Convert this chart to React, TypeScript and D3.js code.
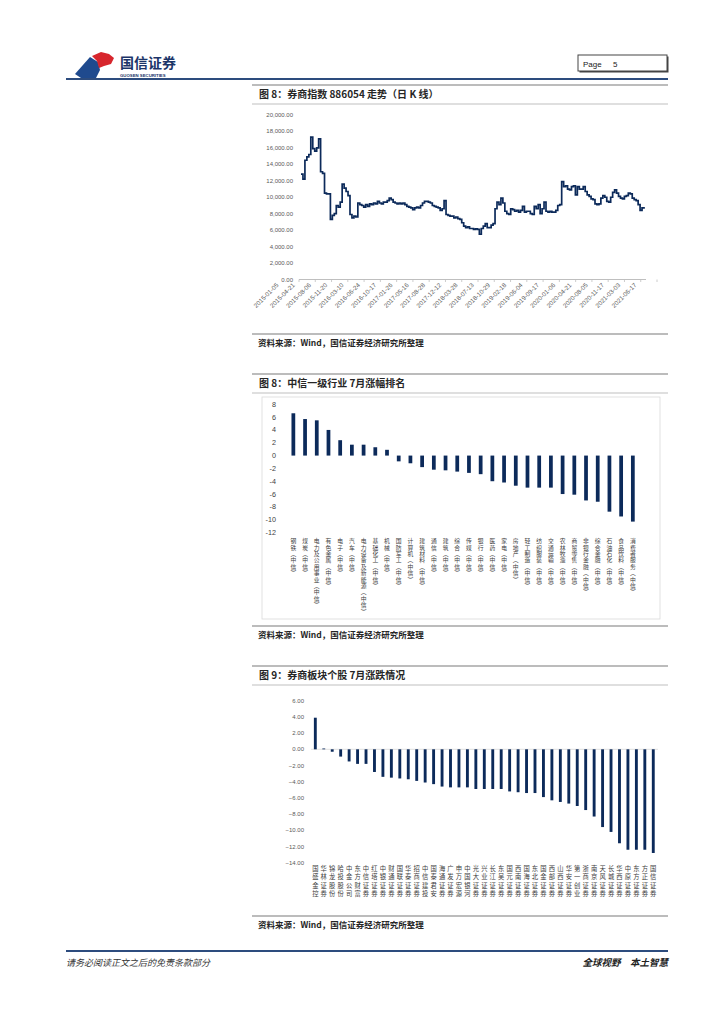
import React from "react";
import * as d3 from "d3";

// ---------- Data ----------
const brokerIndexClose: number[] = [
  12800, 12200, 14500, 14900, 15200, 17300, 15900, 15600, 16000, 17100, 13100, 12900, 10500, 10400, 10400, 7300, 7800, 8000, 9000, 8800,
  9400, 11600, 11100, 10700, 10200, 7900, 7500, 7700, 7600, 9300, 9100, 9000, 8800, 9100, 8900, 9200, 9100, 9300, 9200, 9500,
  9300, 9200, 9400, 9400, 9600, 9900, 9700, 9400, 9300, 9200, 9300, 9200, 9300, 9100, 8900, 8800, 8700, 8500, 8700, 8800,
  8700, 9000, 9300, 9500, 9500, 9400, 9300, 9000, 8900, 8800, 8700, 8400, 8600, 9600, 7900, 7800, 7700, 7700, 7500, 7600,
  7400, 7300, 6900, 6500, 6300, 6400, 6200, 6200, 6100, 6150,
  6100, 5500, 6200, 6500, 6800, 6300, 6300, 6600, 6800, 8600, 9400, 9100, 9900, 9300, 8300, 8000, 7900, 8600, 8500, 8300,
  8400, 8200, 8400, 8900, 8200, 8300, 8300, 8000, 7900, 8900, 8600, 9100, 8000, 8600, 9400, 8300, 8200, 8300, 8200, 8200,
  8400, 9000, 9100, 11900, 11300, 11400, 11000, 10900, 11300, 11400, 10300, 11300, 11000, 11000, 11300, 10700, 10300, 10100, 9800, 9700,
  9200, 9100, 9200, 9900, 10200, 10000, 9500, 9400, 10000, 10600, 10900, 10500, 10100, 9900, 9800, 10100, 10200, 10500, 10400, 9900,
  9700, 9600, 9100, 8400, 8700, 8600,
];

const brokerIndexDates: string[] = [
  "2015-01-05", "2015-04-21", "2015-08-06", "2015-11-20", "2016-03-10", "2016-06-24", "2016-10-17", "2017-01-26",
  "2017-05-16", "2017-08-28", "2017-12-12", "2018-03-28", "2018-07-13", "2018-10-29", "2019-02-18", "2019-06-04",
  "2019-09-17", "2020-01-06", "2020-04-21", "2020-08-05", "2020-11-17", "2021-03-03", "2021-06-17",
];

const brokerIndexTicks: number[] = [0, 2000, 4000, 6000, 8000, 10000, 12000, 14000, 16000, 18000, 20000];

const industryNames: string[] = [
  "钢铁（中信）", "煤炭（中信）", "电力及公用事业（中信）", "有色金属（中信）", "电子（中信）", "汽车（中信）",
  "电力设备及新能源（中信）", "基础化工（中信）", "机械（中信）", "国防军工（中信）", "计算机（中信）", "建筑材料（中信）",
  "通信（中信）", "建筑（中信）", "综合（中信）", "传媒（中信）", "银行（中信）", "医药（中信）", "家电（中信）",
  "房地产（中信）", "轻工制造（中信）", "纺织服装（中信）", "交通运输（中信）", "农林牧渔（中信）", "商贸零售（中信）",
  "非银行金融（中信）", "综合金融（中信）", "石油石化（中信）", "食品饮料（中信）", "消费者服务（中信）",
];
const industryReturns: number[] = [
  6.6, 5.7, 5.5, 4.0, 2.4, 1.7, 1.7, 1.3, 0.9, -0.9, -1.2, -1.8, -2.2, -2.3, -2.5,
  -2.7, -2.9, -4.0, -4.2, -4.7, -5.0, -5.0, -5.0, -6.0, -6.1, -7.0, -7.2, -8.75, -9.5, -10.3,
];
const industryTicks: number[] = [8, 6, 4, 2, 0, -2, -4, -6, -8, -10, -12];

const brokerNames: string[] = [
  "国盛金控", "华林证券", "锦龙股份", "哈投股份", "中金公司", "东方财富", "中信证券", "红塔证券", "中银证券", "财通证券",
  "国联证券", "华泰证券", "招商证券", "中信建投", "国泰君安", "海通证券", "广发证券", "申万宏源", "中国银河", "光大证券",
  "兴业证券", "长江证券", "东吴证券", "国元证券", "西南证券", "国海证券", "东北证券", "国金证券", "西部证券", "山西证券",
  "华安证券", "第一创业", "浙商证券", "南京证券", "天风证券", "长城证券", "华西证券", "中原证券", "东方证券", "方正证券",
  "国信证券",
];
const brokerReturns: number[] = [
  3.9, 0.1, -0.3, -0.9, -1.5, -1.8, -1.8, -2.8, -3.4, -3.5, -3.6, -3.7, -3.9, -4.1, -4.3, -4.6, -4.7, -4.7, -4.7, -4.9,
  -4.9, -4.9, -4.9, -5.2, -5.3, -5.4, -5.4, -5.9, -6.3, -6.5, -6.7, -7.0, -7.5, -8.3, -9.6, -10.2, -11.6, -12.4, -12.4, -12.4,
  -12.8,
];
const brokerTicks: number[] = [6, 4, 2, 0, -2, -4, -6, -8, -10, -12, -14];

// ---------- Styles ----------
const CJK = "'Noto Sans CJK SC', 'Noto Sans', sans-serif";
const NUM = "'Liberation Sans', Arial, sans-serif";
const NAVY = "#0c2a5a";
const AXIS_TXT = "#595959";

function FigureHeader({ top, title }: { top: number; title: string }) {
  return (
    <g>
      <line x1={252} x2={668} y1={top} y2={top} stroke="#a6a6a6" strokeWidth={1.6} />
      <text x={259} y={top + 13} fontFamily={CJK} fontSize={10} fontWeight={700} fill="#262626">
        {title}
      </text>
      <line x1={252} x2={668} y1={top + 19} y2={top + 19} stroke="#bfbfbf" strokeWidth={1} />
    </g>
  );
}

function Source({ top }: { top: number }) {
  return (
    <g>
      <line x1={252} x2={668} y1={top} y2={top} stroke="#a6a6a6" strokeWidth={1.4} />
      <text x={258} y={top + 12} fontFamily={CJK} fontSize={8.5} fontWeight={700} fill="#262626">
        资料来源：Wind，国信证券经济研究所整理
      </text>
    </g>
  );
}

function VerticalLabel({ x, y, text, size, spacing, fill }: { x: number; y: number; text: string; size: number; spacing: number; fill: string }) {
  return (
    <text
      x={x}
      y={y}
      fontFamily={CJK}
      fontSize={size}
      fill={fill}
      letterSpacing={spacing}
      style={{ writingMode: "vertical-rl" as any }}
    >
      {text}
    </text>
  );
}

function Chart1() {
  const y = d3.scaleLinear().domain([0, 20000]).range([279.5, 115]);
  const x = d3.scaleLinear().domain([0, brokerIndexClose.length - 1]).range([301, 644]);
  const line = d3
    .line<number>()
    .x((_, i) => x(i))
    .y((d) => y(d))
    .curve(d3.curveStepAfter);
  const lx = d3.scaleLinear().domain([0, brokerIndexDates.length - 1]).range([279, 637]);
  const fmt = d3.format(",.2f");
  return (
    <g>
      {brokerIndexTicks.map((t) => (
        <text key={t} x={293} y={y(t) + 2} textAnchor="end" fontFamily={NUM} fontSize={6} fill={AXIS_TXT}>
          {fmt(t)}
        </text>
      ))}
      <line x1={299} x2={646} y1={y(0)} y2={y(0)} stroke="#bfbfbf" strokeWidth={1} />
      {brokerIndexDates.map((d, i) => (
        <g key={d}>
          <line x1={lx(i) + 20} x2={lx(i) + 20} y1={y(0)} y2={y(0) + 2.5} stroke="#bfbfbf" strokeWidth={0.8} />
          <text
            transform={`translate(${lx(i)},${y(0) + 6}) rotate(-45)`}
            textAnchor="end"
            fontFamily={NUM}
            fontSize={6.3}
            fill={AXIS_TXT}
          >
            {d}
          </text>
        </g>
      ))}
      <path d={line(brokerIndexClose) || ""} fill="none" stroke={NAVY} strokeWidth={1.7} strokeLinejoin="miter" />
    </g>
  );
}

function Chart2() {
  const y = d3.scaleLinear().domain([-12, 8]).range([532.5, 404.3]);
  const x = d3.scaleBand<string>().domain(industryNames).range([287.5, 638.7]).paddingInner(0.68).paddingOuter(0.34);
  return (
    <g>
      <rect x={262} y={397} width={398} height={222} fill="none" stroke="#d9d9d9" strokeWidth={0.8} />
      {industryTicks.map((t) => (
        <text key={t} x={276} y={y(t) + 2.5} textAnchor="end" fontFamily={NUM} fontSize={7.2} fill="#404040">
          {t}
        </text>
      ))}
      {industryNames.map((n, i) => {
        const v = industryReturns[i];
        return (
          <rect
            key={n}
            x={x(n)}
            y={y(Math.max(0, v))}
            width={x.bandwidth()}
            height={Math.abs(y(v) - y(0))}
            fill={NAVY}
          />
        );
      })}
      {industryNames.map((n) => (
        <VerticalLabel key={n} x={(x(n) || 0) + x.bandwidth() / 2} y={538} text={n} size={5.8} spacing={0.6} fill="#404040" />
      ))}
    </g>
  );
}

function Chart3() {
  const y = d3.scaleLinear().domain([-14, 6]).range([862.7, 700.7]);
  const x = d3.scaleBand<string>().domain(brokerNames).range([311.1, 657.5]).paddingInner(0.66).paddingOuter(0.33);
  const fmt = d3.format(".2f");
  return (
    <g>
      {brokerTicks.map((t) => (
        <text key={t} x={304} y={y(t) + 2} textAnchor="end" fontFamily={NUM} fontSize={6} fill={AXIS_TXT}>
          {fmt(t)}
        </text>
      ))}
      <line x1={311} x2={658} y1={y(0)} y2={y(0)} stroke="#d9d9d9" strokeWidth={0.8} />
      {brokerNames.map((n, i) => {
        const v = brokerReturns[i];
        return (
          <rect
            key={n}
            x={x(n)}
            y={y(Math.max(0, v))}
            width={x.bandwidth()}
            height={Math.abs(y(v) - y(0))}
            fill={NAVY}
          />
        );
      })}
      {brokerNames.map((n) => (
        <VerticalLabel key={n} x={(x(n) || 0) + x.bandwidth() / 2} y={865} text={n} size={6.3} spacing={2.3} fill="#404040" />
      ))}
    </g>
  );
}

export default function App() {
  return (
    <svg
      width={724}
      height={1024}
      viewBox="0 0 724 1024"
      style={{ position: "absolute", left: 0, top: 0, background: "#fff" }}
    >
      <rect x={0} y={0} width={724} height={1024} fill="#fff" />
      {/* Header */}
      <g>
        <path d="M75,74 L90,57 L98,62 L100,70 L95,80 L84,80 Z" fill="#1f4a8e" />
        <path d="M92,56 L101,52 L109,54 L114,58 L111,64 L104,66 L99,68 L97,61 Z" fill="#d7262d" />
        <text x={120} y={68} fontFamily={CJK} fontSize={14} fontWeight={700} fill="#1b3468">
          国信证券
        </text>
        <text x={120} y={77} fontFamily={NUM} fontSize={4.3} fontWeight={700} fill="#1b3468">
          GUOSEN SECURITIES
        </text>
        <rect x={579.5} y={56.5} width={89} height={16} fill="#444" />
        <rect x={578} y={55} width={89} height={16} fill="#fff" stroke="#444" strokeWidth={1} />
        <text x={583} y={66.5} fontFamily={NUM} fontSize={8} fill="#222">
          Page
        </text>
        <text x={613} y={66.5} fontFamily={NUM} fontSize={8} fill="#222">
          5
        </text>
        <line x1={66} x2={668} y1={79} y2={79} stroke="#2d4c7e" strokeWidth={2.2} />
      </g>

      <FigureHeader top={85} title="图 8：券商指数 886054 走势（日 K 线）" />
      <Chart1 />
      <Source top={334} />

      <FigureHeader top={374} title="图 8：中信一级行业 7月涨幅排名" />
      <Chart2 />
      <Source top={626} />

      <FigureHeader top={666} title="图 9：券商板块个股 7月涨跌情况" />
      <Chart3 />
      <Source top={916} />

      {/* Footer */}
      <line x1={66} x2={668} y1={951} y2={951} stroke="#2d4c7e" strokeWidth={2} />
      <text x={66} y={966} fontFamily={CJK} fontSize={9} fontStyle="italic" fill="#333">
        请务必阅读正文之后的免责条款部分
      </text>
      <text x={668} y={966} textAnchor="end" fontFamily={CJK} fontSize={9.5} fontStyle="italic" fontWeight={700} fill="#222">
        全球视野　本土智慧
      </text>
    </svg>
  );
}
